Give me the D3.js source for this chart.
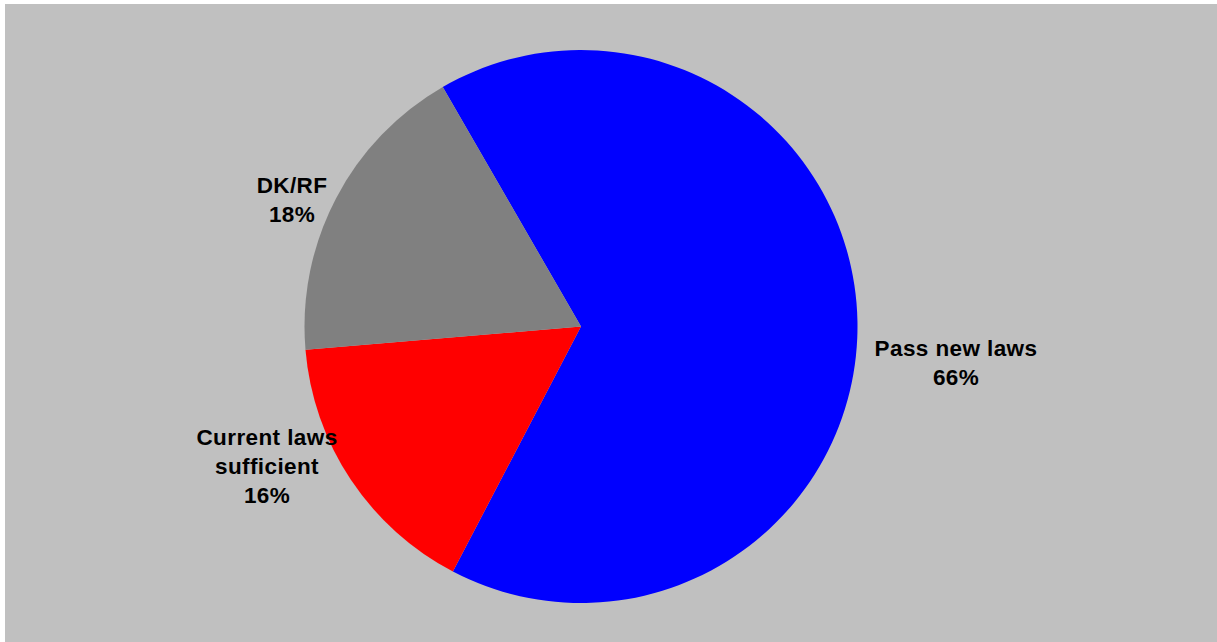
<!DOCTYPE html>
<html><head><meta charset="utf-8">
<script src="https://cdn.jsdelivr.net/npm/d3@7"></script>
<style>html,body{margin:0;padding:0;background:#fff;}svg{display:block;}</style>
</head><body>
<svg id="chart" width="1217" height="642"></svg>
<script>
const categories = ["Pass new laws", "Current laws sufficient", "DK/RF"];
const labelLines = [["Pass new laws"], ["Current laws", "sufficient"], ["DK/RF"]];
const values = [66, 16, 18];
const colors = ["#0000ff", "#ff0000", "#808080"];

const svg = d3.select("#chart");
svg.append("rect").attr("x", 5).attr("y", 4).attr("width", 1212).attr("height", 638).attr("fill", "#c0c0c0");

const cx = 581, cy = 326.5, r = 276.5;
const startAngle = -30 * Math.PI / 180;
const pie = d3.pie().sort(null).value(d => d)
  .startAngle(startAngle).endAngle(startAngle + 2 * Math.PI);
const arcs = pie(values);
const arc = d3.arc().innerRadius(0).outerRadius(r);
const g = svg.append("g").attr("transform", `translate(${cx},${cy})`);
g.selectAll("path").data(arcs).join("path")
  .attr("d", arc).attr("fill", (d, i) => colors[i]);

const labelPos = [[956, 348], [267, 437], [292, 185]];
labelPos.forEach((p, i) => {
  const lines = labelLines[i].concat([values[i] + "%"]);
  const t = svg.append("text")
    .attr("text-anchor", "middle")
    .attr("font-family", "Liberation Sans, Arial, sans-serif")
    .attr("font-weight", "bold").attr("font-size", 22.5).attr("letter-spacing", 0.4).attr("fill", "#000");
  lines.forEach((l, j) => {
    t.append("tspan").attr("x", p[0]).attr("y", p[1] + j * 29 + 8).text(l);
  });
});
</script>
</body></html>
